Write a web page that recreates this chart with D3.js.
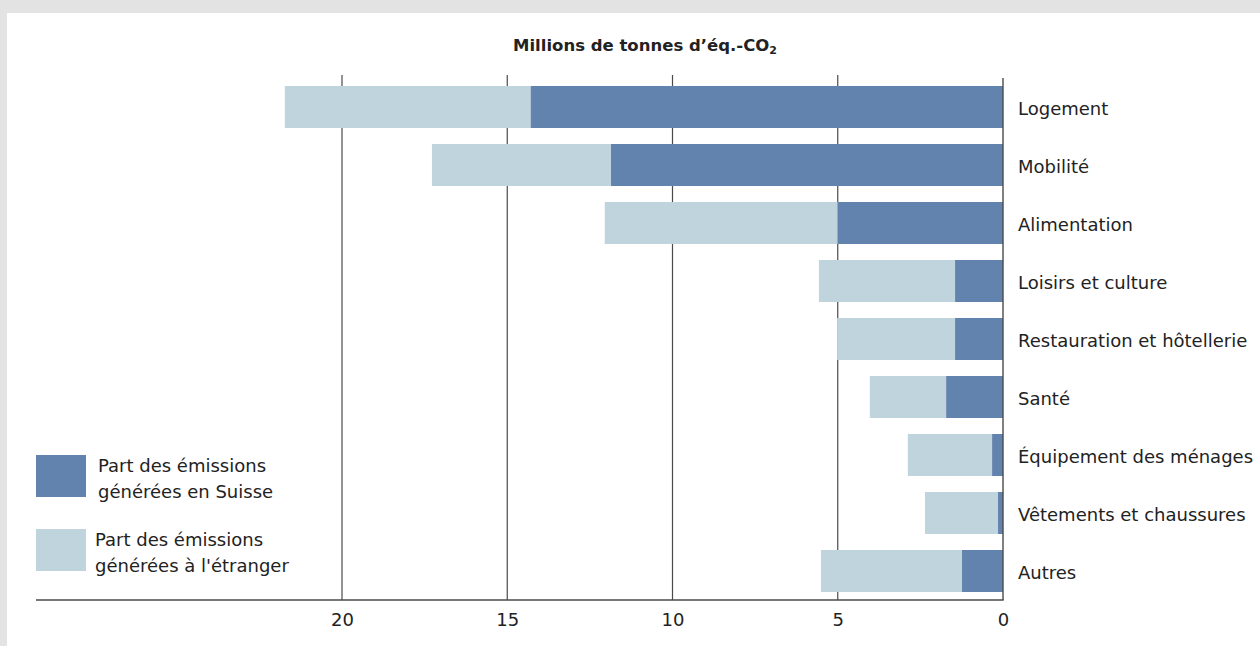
<!DOCTYPE html>
<html>
<head>
<meta charset="utf-8">
<script src="https://cdn.jsdelivr.net/npm/d3@7"></script>
<style>
  html, body { margin: 0; padding: 0; background: #e3e3e3; }
  svg { display: block; }
  text { font-family: "DejaVu Sans", sans-serif; fill: #222; }
</style>
</head>
<body>
<svg id="chart" width="1260" height="646"></svg>
<script>
// Émissions de gaz à effet de serre par domaine de consommation (Mio t éq.-CO2)
const categories = [
  "Logement", "Mobilité", "Alimentation", "Loisirs et culture",
  "Restauration et hôtellerie", "Santé", "Équipement des ménages",
  "Vêtements et chaussures", "Autres"
];
const domestic = [14.29, 11.86, 5.0, 1.45, 1.45, 1.72, 0.33, 0.15, 1.24];
const abroad   = [7.44, 5.42, 7.05, 4.12, 3.57, 2.31, 2.55, 2.21, 4.27];
const tickValues = [0, 5, 10, 15, 20];
const seriesNames = [
  ["Part des émissions", "générées en Suisse"],
  ["Part des émissions", "générées à l'étranger"]
];
const colors = ["#6283ad", "#c0d4de"];

const svg = d3.select("#chart");

// white panel
svg.append("rect").attr("x", 7).attr("y", 13).attr("width", 1253).attr("height", 633).attr("fill", "#fff");

const x = d3.scaleLinear().domain([0, 20]).range([1003, 342]);
const y = d3.scaleBand().domain(categories).range([78, 600])
  .paddingInner(0.276).paddingOuter(0.138);

// vertical grid lines
svg.append("g").selectAll("line").data(tickValues.filter(d => d > 0)).join("line")
  .attr("x1", d => x(d)).attr("x2", d => x(d))
  .attr("y1", 75).attr("y2", 600)
  .attr("stroke", "#4a4a4a").attr("stroke-width", 1.2);

// stacked bars: domestic share from zero, foreign share beyond it
const rows = categories.map((c, i) => ({ c, dom: domestic[i], abr: abroad[i] }));
const g = svg.append("g");
g.selectAll("rect.abr").data(rows).join("rect").attr("class", "abr")
  .attr("x", d => x(d.dom + d.abr)).attr("width", d => x(d.dom) - x(d.dom + d.abr))
  .attr("y", d => y(d.c)).attr("height", y.bandwidth()).attr("fill", colors[1]);
g.selectAll("rect.dom").data(rows).join("rect").attr("class", "dom")
  .attr("x", d => x(d.dom)).attr("width", d => x(0) - x(d.dom))
  .attr("y", d => y(d.c)).attr("height", y.bandwidth()).attr("fill", colors[0]);

// zero line
svg.append("line").attr("x1", x(0)).attr("x2", x(0)).attr("y1", 78).attr("y2", 600)
  .attr("stroke", "#4a4a4a").attr("stroke-width", 1.4);

// x axis
const xAxis = d3.axisBottom(x).tickValues(tickValues).tickSize(0).tickPadding(13);
const ax = svg.append("g").attr("transform", "translate(0,600)").call(xAxis);
ax.select(".domain").remove();
ax.selectAll("text").style("font-size", "18px").attr("fill", "#222");
svg.append("line").attr("x1", 36).attr("x2", x(0) + 0.7).attr("y1", 600).attr("y2", 600)
  .attr("stroke", "#4a4a4a").attr("stroke-width", 1.6);

// category labels
svg.append("g").selectAll("text").data(categories).join("text")
  .attr("x", 1018).attr("y", d => y(d) + y.bandwidth() / 2 + 2)
  .attr("dy", "0.36em").style("font-size", "18px").text(d => d);

// title
const title = svg.append("text").attr("x", 645).attr("y", 51)
  .attr("text-anchor", "middle").style("font-size", "16.5px").style("font-weight", "bold");
title.append("tspan").text("Millions de tonnes d’éq.-CO");
title.append("tspan").attr("dy", 3).style("font-size", "11px").text("2");

// legend
const legend = svg.append("g");
const legY = [455, 529];
const legTextX = [98, 95];
seriesNames.forEach((lines, i) => {
  legend.append("rect").attr("x", 36).attr("y", legY[i]).attr("width", 50).attr("height", 42)
    .attr("fill", colors[i]);
  const t = legend.append("text").attr("x", legTextX[i]).attr("y", legY[i] + 17)
    .style("font-size", "18px");
  lines.forEach((l, j) => {
    t.append("tspan").attr("x", legTextX[i]).attr("dy", j === 0 ? 0 : 25.5).text(l);
  });
});
</script>
</body>
</html>
